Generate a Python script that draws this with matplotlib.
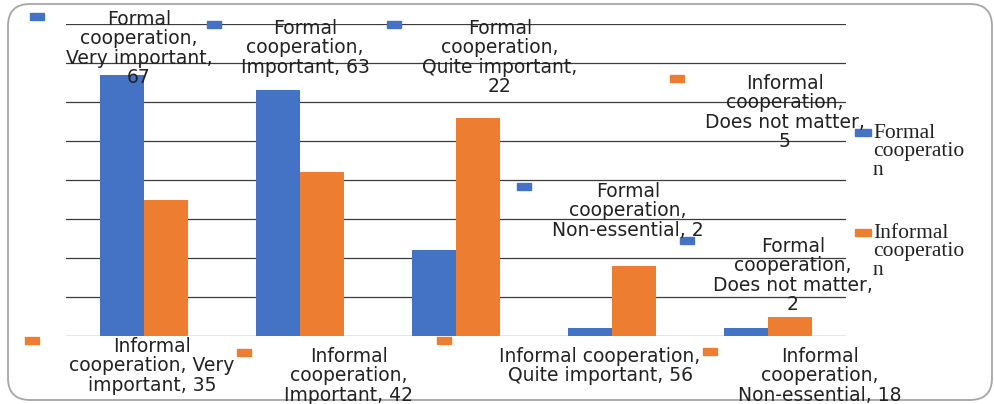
import numpy as np
import matplotlib.pyplot as plt
from matplotlib.patches import Rectangle, FancyBboxPatch
from matplotlib.transforms import IdentityTransform

# Survey answers: how important each kind of cooperation is
categories = ["Very important", "Important", "Quite important",
              "Non-essential", "Does not matter"]
series_names = ["Formal cooperation", "Informal cooperation"]
formal = [67, 63, 22, 2, 2]
informal = [35, 42, 56, 18, 5]
colors = ["#4472C4", "#ED7D31"]

W, H = 994, 404
fig = plt.figure(figsize=(W / 100, H / 100), dpi=100)


def px(x, y):
    # pixel position measured from the top-left corner -> figure fraction
    return x / W, 1 - y / H


# rounded frame around the chart area
fig.patches.append(FancyBboxPatch((8, 4), 984, 396,
                                  boxstyle="round,pad=0,rounding_size=22",
                                  transform=IdentityTransform(),
                                  facecolor="none", edgecolor="#a6a6a6",
                                  linewidth=1.3, zorder=0))

ax = fig.add_axes([66 / W, (H - 336) / H, 780 / W, 312 / H])
x = np.arange(len(categories))
width = 0.282
ax.bar(x - width / 2, formal, width, color=colors[0], zorder=2)
ax.bar(x + width / 2, informal, width, color=colors[1], zorder=2)

ax.set_xlim(-0.5, len(categories) - 0.5)
ax.set_ylim(0, 80)
ax.set_yticks(np.arange(0, 81, 10))
ax.yaxis.grid(True, color="#3c3c3c", linewidth=0.9)
ax.set_axisbelow(True)
ax.tick_params(left=False, bottom=False, labelleft=False, labelbottom=False)
for s in ax.spines.values():
    s.set_visible(False)
ax.patch.set_alpha(0)

# data callouts: (series, category, words per line, text centre/top, key box)
callouts = [
    (0, 0, [1, 1, 2, 1], (139, 10), (30, 13)),
    (0, 1, [1, 1, 2], (305, 19), (207, 21)),
    (0, 2, [1, 1, 2, 1], (500, 19), (387, 21)),
    (1, 4, [1, 1, 3, 1], (785, 74), (670, 75)),
    (0, 3, [1, 1, 2], (628, 182), (517, 183)),
    (0, 4, [1, 1, 3, 1], (793, 237), (680, 237)),
    (1, 0, [1, 2, 2], (152, 337), (25, 337)),
    (1, 1, [1, 1, 2], (349, 347), (237, 349)),
    (1, 2, [2, 3], (600, 347), (437, 337)),
    (1, 3, [1, 1, 2], (820, 347), (703, 348)),
]
values = [formal, informal]
for si, ci, split, (tx, ty), (kx, ky) in callouts:
    name = series_names[si].split()
    words = [name[0], name[1] + ","] + f"{categories[ci]}, {values[si][ci]}".split()
    lines, i = [], 0
    for n in split:
        lines.append(" ".join(words[i:i + n]))
        i += n
    fig.text(*px(tx, ty), "\n".join(lines), ha="center", va="top",
             fontsize=13.5, linespacing=1.03, color="#222222",
             family="DejaVu Sans")
    fig.patches.append(Rectangle(px(kx, ky + 7), 14 / W, 7 / H,
                                 transform=fig.transFigure,
                                 color=colors[si]))

# legend on the right, words wrapped to the narrow legend box
for i, (name, c) in enumerate(zip(series_names, colors)):
    top = 127 + 100 * i
    first, rest = name.split(" ")
    fig.patches.append(Rectangle(px(855, top + 9), 16 / W, 7 / H,
                                 transform=fig.transFigure, color=c))
    fig.text(*px(873, top - 3), first + "\n" + rest[:-1] + "\n" + rest[-1],
             ha="left", va="top", fontsize=15.5, linespacing=0.95,
             family="Liberation Serif", color="#222222")

fig.savefig("out.png", dpi=100)
